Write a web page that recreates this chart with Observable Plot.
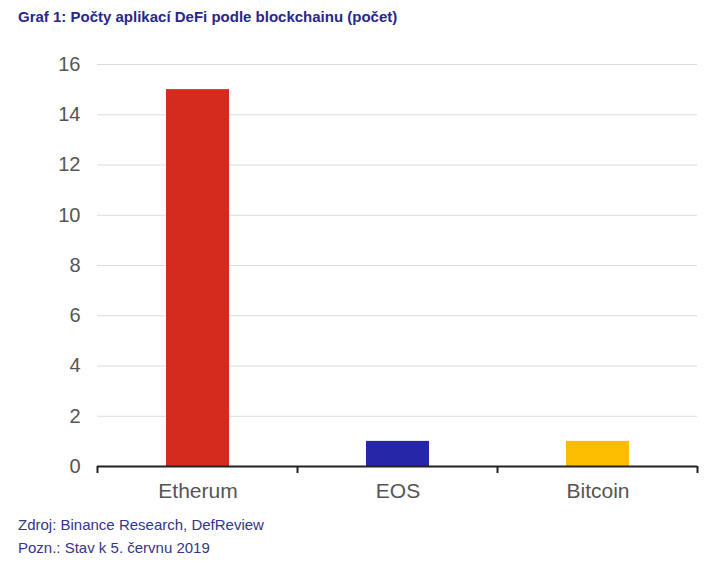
<!DOCTYPE html>
<html>
<head>
<meta charset="utf-8">
<script src="https://cdn.jsdelivr.net/npm/d3@7"></script>
<script src="https://cdn.jsdelivr.net/npm/@observablehq/plot@0.6"></script>
<style>
  body { margin: 0; background: #fff; width: 715px; height: 569px; position: relative; overflow: hidden; font-family: "Liberation Sans", Arial, sans-serif; }
  #title { position: absolute; left: 18px; top: 8px; font-size: 15px; font-weight: bold; color: #27278c; white-space: nowrap; }
  #chart { position: absolute; left: 0; top: 40px; }
  .foot { position: absolute; left: 18px; font-size: 15px; color: #35358a; white-space: nowrap; }
</style>
</head>
<body>
<div id="title">Graf 1: Počty aplikací DeFi podle blockchainu (počet)</div>
<div id="chart"></div>
<div class="foot" style="top:516px">Zdroj: Binance Research, DefReview</div>
<div class="foot" style="top:539px">Pozn.: Stav k 5. červnu 2019</div>
<script>
const categories = ["Etherum", "EOS", "Bitcoin"];
const values = [15, 1, 1];
const colors = ["#d52a1e", "#2626a8", "#fcbd00"];
const yTicks = [0, 2, 4, 6, 8, 10, 12, 14, 16];

const data = categories.map((c, i) => ({category: c, value: values[i], color: colors[i]}));

const plot = Plot.plot({
  width: 715,
  height: 470,
  marginTop: 24,
  marginBottom: 44,
  marginLeft: 97,
  marginRight: 18,
  style: {fontFamily: "'Liberation Sans', Arial, sans-serif", fontSize: "20px", color: "#555", background: "#fff"},
  x: {domain: categories, paddingInner: 0.685, paddingOuter: 0.3425, label: null},
  y: {domain: [0, 16], ticks: yTicks, label: null},
  marks: [
    Plot.gridY(yTicks.filter(d => d > 0), {stroke: "#dcdcdc", strokeOpacity: 1, strokeWidth: 1}),
    Plot.barY(data, {x: "category", y: "value", fill: "color"}),
    Plot.axisY({ticks: yTicks, tickSize: 0, tickPadding: 17, fontSize: 20, fill: "#555"}),
    Plot.axisX({tickSize: 0, tickPadding: 17, fontSize: 21, fill: "#555"}),
    Plot.ruleY([0], {stroke: "#222", strokeWidth: 2})
  ]
});

// category boundary ticks below the baseline, derived from the band scale
const xs = plot.scale("x");
const ys = plot.scale("y");
const step = xs.step;
const halfGap = (step - xs.bandwidth) / 2;
const bounds = categories.map(c => xs.apply(c) - halfGap);
bounds.push(xs.apply(categories[categories.length - 1]) + xs.bandwidth + halfGap);
const y0 = ys.apply(0);
const svg = d3.select(plot);
svg.append("g").selectAll("line").data(bounds).join("line")
  .attr("x1", d => d).attr("x2", d => d)
  .attr("y1", y0).attr("y2", y0 + 7)
  .attr("stroke", "#222").attr("stroke-width", 2);

document.getElementById("chart").appendChild(plot);
</script>
</body>
</html>
